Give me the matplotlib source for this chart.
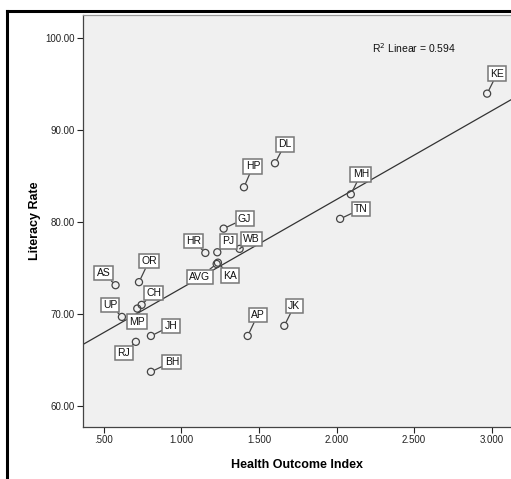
import numpy as np
import matplotlib
matplotlib.use("Agg")
import matplotlib.pyplot as plt
from matplotlib.lines import Line2D

plt.rcParams['font.family'] = ['Liberation Sans', 'DejaVu Sans']

states = ["AS", "OR", "CH", "MP", "UP", "RJ", "JH", "BH", "HR", "PJ", "GJ", "WB",
          "AVG", "KA", "AP", "HP", "DL", "KE", "MH", "TN", "JK"]
health_index = [0.575, 0.726, 0.743, 0.715, 0.616, 0.706, 0.803, 0.803, 1.154, 1.231,
                1.272, 1.375, 1.227, 1.235, 1.427, 1.403, 1.603, 2.971, 2.092, 2.023, 1.663]
literacy = [73.12, 73.45, 70.98, 70.58, 69.67, 66.96, 67.60, 63.70, 76.63, 76.70,
            79.27, 77.07, 75.43, 75.57, 67.60, 83.77, 86.38, 93.95, 83.00, 80.33, 68.70]
# label offsets (pixels) from each point
label_dx = [-12, 10, 12, 0, -12, -12, 20, 21, -12, 11, 21, 12, -17, 12, 10, 9, 10, 10, 10, 21, 10]
label_dy = [12, 21, 12, -13, 12, -11, 10, 10, 12, 11, 10, 10, -13, -13, 21, 21, 19, 20, 20, 10, 20]

xticks = [0.5, 1.0, 1.5, 2.0, 2.5, 3.0]
xticklabels = [".500", "1.000", "1.500", "2.000", "2.500", "3.000"]
yticks = [60, 70, 80, 90, 100]
yticklabels = ["60.00", "70.00", "80.00", "90.00", "100.00"]

W, H = 511, 479
fig = plt.figure(figsize=(W / 100, H / 100), dpi=100)
fig.patch.set_facecolor("white")

# outer black frame (top and left)
fig.add_artist(Line2D([7 / W, 7 / W], [0, 1 - 11 / H], color="black", lw=2.2, transform=fig.transFigure))
fig.add_artist(Line2D([7 / W, 1], [1 - 11 / H, 1 - 11 / H], color="black", lw=2.2, transform=fig.transFigure))

ax_l, ax_r, ax_t, ax_b = 83, 511, 15, 427
ax = fig.add_axes([ax_l / W, 1 - ax_b / H, (ax_r - ax_l) / W, (ax_b - ax_t) / H])
ax.set_facecolor("#F0F0F0")
ax.set_xlim(0.365, 3.125)
ax.set_ylim(57.7, 102.5)

for side in ["left", "bottom", "top"]:
    ax.spines[side].set_color("#444444")
    ax.spines[side].set_linewidth(0.9)
ax.spines["right"].set_visible(False)
ax.spines["top"].set_color("#999999")

ax.set_xticks(xticks)
ax.set_xticklabels(xticklabels)
ax.set_yticks(yticks)
ax.set_yticklabels(yticklabels)
ax.tick_params(axis="both", labelsize=7, colors="#222222", length=4, width=0.8, pad=2)

# regression line
slope, intercept = np.polyfit(health_index, literacy, 1)
xs = np.array(ax.get_xlim())
ax.plot(xs, slope * xs + intercept, color="#333333", lw=0.9, zorder=2)

ax.scatter(health_index, literacy, s=26, facecolors="none", edgecolors="#444444",
           linewidths=0.9, zorder=4)

for name, x, y, dx, dy in zip(states, health_index, literacy, label_dx, label_dy):
    ax.annotate(name, xy=(x, y), xytext=(dx * 0.72, dy * 0.72), textcoords="offset points",
                ha="center", va="center", fontsize=7.5, color="#111111",
                bbox=dict(boxstyle="square,pad=0.22", fc="white", ec="#777777", lw=1.1),
                arrowprops=dict(arrowstyle="-", color="#444444", lw=0.9, shrinkA=0, shrinkB=3),
                zorder=5)

ax.text(0.773, 0.92, "R$^2$ Linear = 0.594", transform=ax.transAxes, fontsize=7.5,
        ha="center", va="center", color="#111111")

ax.set_xlabel("Health Outcome Index", fontsize=9, fontweight="bold", labelpad=10)
ax.set_ylabel("Literacy Rate", fontsize=9, fontweight="bold", labelpad=3)

fig.savefig("out.png", dpi=100, facecolor="white")
